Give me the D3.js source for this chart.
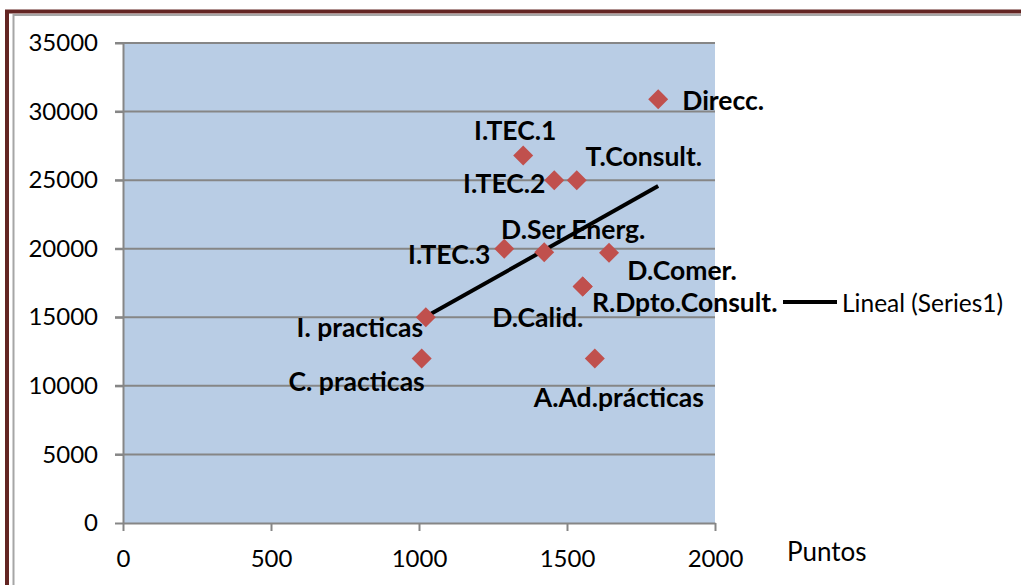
<!DOCTYPE html>
<html>
<head>
<meta charset="utf-8" />
<title></title>
<style>
  body { margin: 0; background: #fff; }
  text { font-family: Lato, "DejaVu Sans", sans-serif; }
  .tick text { font-size: 24px; fill: #000; }
  .tick line, .domain { stroke: #868686; stroke-width: 2px; }
  .lbl { font-size: 26.5px; font-weight: bold; fill: #000; }
</style>
</head>
<body>
<div id="container"></div>
<script src="https://cdn.jsdelivr.net/npm/d3@7"></script>
<script>
// data
var names = ["Direcc.", "I.TEC.1", "I.TEC.2", "T.Consult.", "I.TEC.3", "D.Ser Energ.",
             "D.Comer.", "R.Dpto.Consult.", "D.Calid.", "I. practicas", "C. practicas", "A.Ad.prácticas"];
var puntos = [1808, 1352, 1457, 1533, 1288, 1423, 1642, 1553, 1553, 1023, 1009, 1594];
var sueldo = [30900, 26800, 25000, 25000, 20000, 19750, 19700, 17250, 17250, 15000, 12000, 12000];
var xTicks = [0, 500, 1000, 1500, 2000];
var yTicks = [0, 5000, 10000, 15000, 20000, 25000, 30000, 35000];

// where each label sits relative to its marker (px)
var labelOffsets = [[65, 1], [-8, -25], [-50, 3], [67, -24], [-55, 5], [29, -23],
                    [73, 17], [102, 16], [-45, 31], [-66, 10], [-65, 23], [24, 39]];

var width = 1021, height = 585,
    margin = {left: 123, top: 43, right: 306, bottom: 62},
    g_width = width - margin.left - margin.right,
    g_height = height - margin.top - margin.bottom;

var svg = d3.select("#container").append("svg")
    .attr("width", width)
    .attr("height", height);

// outer frame (double line, runs off the right / bottom)
svg.append("rect").attr("x", 7).attr("y", 11.5).attr("width", 1100).attr("height", 700)
    .attr("fill", "none").attr("stroke", "#632523").attr("stroke-width", 4);
svg.append("rect").attr("x", 13.5).attr("y", 15).attr("width", 1100).attr("height", 700)
    .attr("fill", "none").attr("stroke", "#a6a6a6").attr("stroke-width", 2);

var g = svg.append("g")
    .attr("transform", "translate(" + margin.left + "," + margin.top + ")");

var scale_x = d3.scaleLinear().domain([0, 2000]).range([0, g_width]);
var scale_y = d3.scaleLinear().domain([0, 35000]).range([g_height, 0]);

g.append("rect")
    .attr("width", g_width)
    .attr("height", g_height)
    .attr("fill", "#b9cde5");

// horizontal gridlines
g.selectAll(".grid")
    .data(yTicks.slice(1))
    .enter().append("line")
    .attr("x1", -8).attr("x2", g_width)
    .attr("y1", d => scale_y(d)).attr("y2", d => scale_y(d))
    .attr("stroke", "#868686").attr("stroke-width", 2);

g.append("g")
    .attr("transform", "translate(0," + g_height + ")")
    .call(d3.axisBottom(scale_x).tickValues(xTicks).tickFormat(d3.format("d"))
        .tickSize(8).tickPadding(19).tickSizeOuter(0))
    .call(a => a.selectAll(".tick text").attr("dy", "0.71em"));

g.append("g")
    .call(d3.axisLeft(scale_y).tickValues(yTicks).tickFormat(d3.format("d"))
        .tickSize(8).tickPadding(17).tickSizeOuter(0));

// linear trendline (least squares, like the spreadsheet's "Lineal")
var mx = d3.mean(puntos), my = d3.mean(sueldo);
var sxy = d3.sum(puntos, (p, i) => (p - mx) * (sueldo[i] - my));
var sxx = d3.sum(puntos, p => (p - mx) * (p - mx));
var slope = sxy / sxx, icpt = my - slope * mx;
var trendX = d3.extent(puntos);

g.append("path")
    .datum(trendX)
    .attr("d", d3.line().x(d => scale_x(d)).y(d => scale_y(icpt + slope * d)))
    .attr("stroke", "#000").attr("stroke-width", 4).attr("fill", "none");

// markers
var diamond = d3.symbol().type(d3.symbolSquare).size(200);
g.selectAll(".pt")
    .data(puntos)
    .enter().append("path")
    .attr("d", diamond)
    .attr("transform", (d, i) => "translate(" + scale_x(d) + "," + scale_y(sueldo[i]) + ") rotate(45)")
    .attr("fill", "#c0504d");

g.selectAll(".lbl")
    .data(names)
    .enter().append("text")
    .attr("class", "lbl")
    .attr("x", (d, i) => scale_x(puntos[i]) + labelOffsets[i][0])
    .attr("y", (d, i) => scale_y(sueldo[i]) + labelOffsets[i][1])
    .attr("text-anchor", "middle")
    .attr("dominant-baseline", "central")
    .text(d => d);

// legend
svg.append("line").attr("x1", 783).attr("x2", 837).attr("y1", 302).attr("y2", 302)
    .attr("stroke", "#000").attr("stroke-width", 4);
svg.append("text").attr("x", 842).attr("y", 302)
    .attr("dominant-baseline", "central")
    .attr("font-size", "24.5px")
    .text("Lineal (Series1)");

// axis title
svg.append("text").attr("x", 787).attr("y", 551)
    .attr("dominant-baseline", "central")
    .attr("font-size", "26px")
    .text("Puntos");
</script>
</body>
</html>
